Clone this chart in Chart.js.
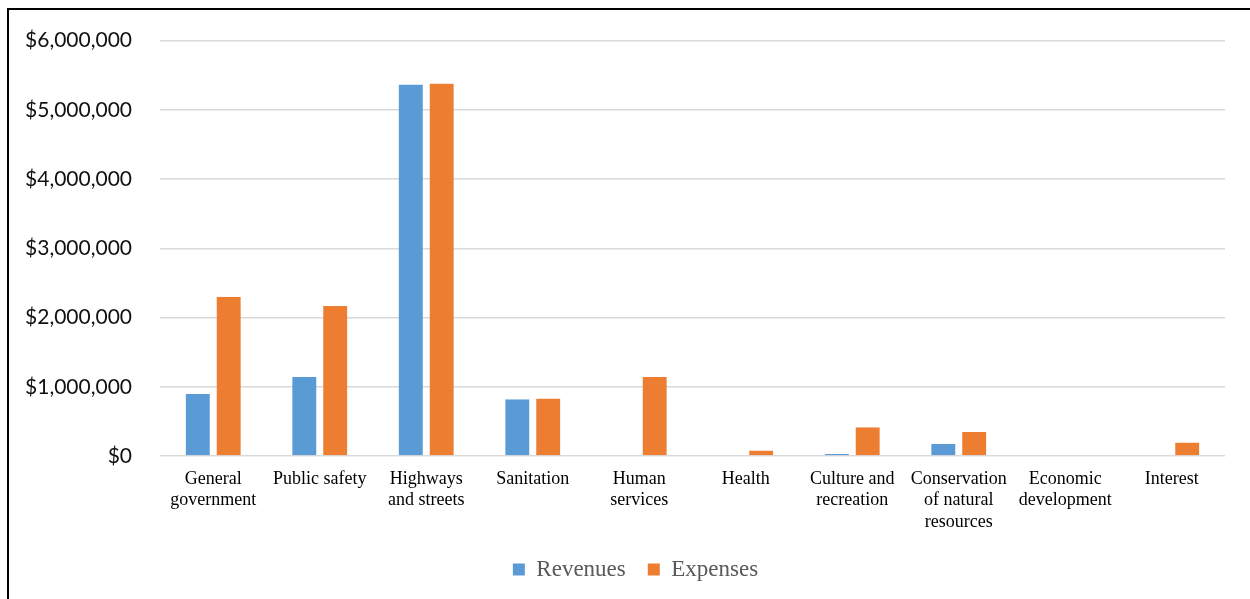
<!DOCTYPE html>
<html>
<head>
<meta charset="utf-8">
<script src="https://cdn.jsdelivr.net/npm/chart.js@4.4.0/dist/chart.umd.min.js"></script>
<style>
  html, body { margin: 0; padding: 0; background: #fff; }
  #wrap { position: relative; width: 1250px; height: 599px; overflow: hidden; }
  #frame { position: absolute; left: 7px; top: 8px; width: 1400px; height: 700px;
           border: 2px solid #000; box-sizing: border-box; pointer-events: none; }
</style>
</head>
<body>
<div id="wrap">
  <canvas id="chart" width="1250" height="599"></canvas>
  <div id="frame"></div>
</div>
<script>
var categories = [
  ['General', 'government'],
  'Public safety',
  ['Highways', 'and streets'],
  'Sanitation',
  ['Human', 'services'],
  'Health',
  ['Culture and', 'recreation'],
  ['Conservation', 'of natural', 'resources'],
  ['Economic', 'development'],
  'Interest'
];
var revenues = [895000, 1140000, 5365000, 820000, 0, 0, 30000, 175000, 0, 0];
var expenses = [2300000, 2165000, 5380000, 830000, 1140000, 80000, 415000, 345000, 0, 195000];
var yMax = 6000000;
var yStep = 1000000;

var ctx = document.getElementById('chart').getContext('2d');

function moneda(v) {
  return '$' + Math.round(v).toLocaleString('en-US');
}

// mueve la leyenda un poco a la derecha, como en el original
var moverLeyenda = {
  id: 'moverLeyenda',
  afterLayout: function (chart) {
    if (chart.legend) {
      chart.legend.left += 23;
      chart.legend.right += 23;
    }
  }
};

var chart = new Chart(ctx, {
  type: 'bar',
  data: {
    labels: categories,
    datasets: [{
      label: 'Revenues',
      data: revenues,
      backgroundColor: '#5b9bd5',
      borderColor: 'rgba(0,0,0,0)',
      borderWidth: { left: 3.5, right: 3.5, top: 0, bottom: 0 },
      borderSkipped: false
    }, {
      label: 'Expenses',
      data: expenses,
      backgroundColor: '#ed7d31',
      borderColor: 'rgba(0,0,0,0)',
      borderWidth: { left: 3.5, right: 3.5, top: 0, bottom: 0 },
      borderSkipped: false
    }]
  },
  plugins: [moverLeyenda],
  options: {
    responsive: false,
    animation: false,
    devicePixelRatio: 1,
    categoryPercentage: 0.58,
    barPercentage: 1.0,
    layout: {
      padding: { top: 38, right: 25, bottom: 8, left: 0 }
    },
    plugins: {
      tooltip: { enabled: false },
      legend: {
        position: 'bottom',
        labels: {
          boxWidth: 12,
          boxHeight: 12,
          padding: 22,
          color: '#595959',
          font: { family: 'Liberation Serif', size: 23 }
        }
      }
    },
    scales: {
      x: {
        grid: { display: false },
        border: { display: false },
        ticks: {
          color: '#000',
          padding: 4,
          maxRotation: 0,
          autoSkip: false,
          font: { family: 'Liberation Serif', size: 18, lineHeight: 1.2 }
        },
        afterFit: function (scale) { scale.height = 80; }
      },
      y: {
        min: 0,
        max: yMax,
        grid: { color: '#d9d9d9', lineWidth: 1.5, drawTicks: false },
        border: { display: false },
        ticks: {
          stepSize: yStep,
          color: '#111',
          padding: 28,
          font: { family: 'Lato', size: 21 },
          callback: function (v) { return moneda(v); }
        },
        afterFit: function (scale) { scale.width = 160; }
      }
    }
  }
});
</script>
</body>
</html>
